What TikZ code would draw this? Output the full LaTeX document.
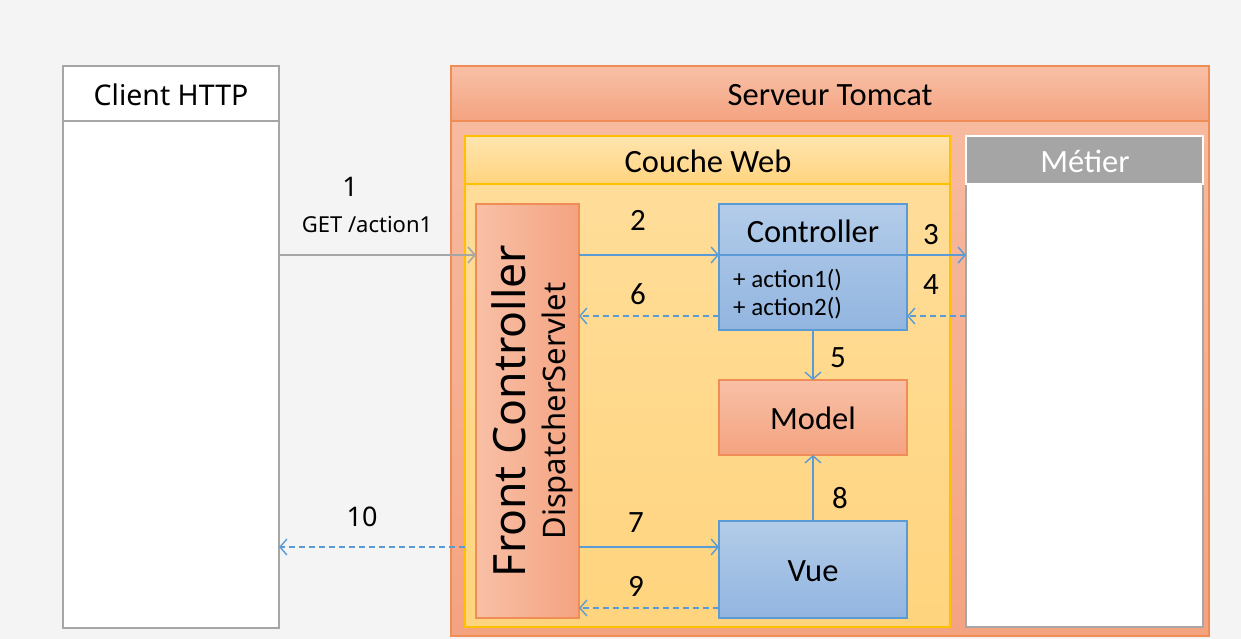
\documentclass[tikz,border=0pt]{standalone}
\usepackage{fontspec}
\setmainfont{Carlito}
\newfontfamily\segoe{Noto Sans}
\usetikzlibrary{arrows.meta}
\definecolor{bg}{HTML}{F4F4F4}
\definecolor{grayline}{HTML}{A6A6A6}
\definecolor{orangeline}{HTML}{F08C55}
\definecolor{goldline}{HTML}{FFC000}
\definecolor{blueline}{HTML}{5B9BD5}
\definecolor{salmonA}{HTML}{F8C0A6}
\definecolor{salmonB}{HTML}{F4A381}
\definecolor{yellowA}{HTML}{FFDE9C}
\definecolor{yellowB}{HTML}{FFD47E}
\definecolor{blueA}{HTML}{B3CCE9}
\definecolor{blueB}{HTML}{92B5E0}
\definecolor{metiergray}{HTML}{A5A5A5}
\tikzset{
  box/.style={anchor=north west, inner sep=0pt, outer sep=0pt, line width=1.3pt},
  salmonbox/.style={box, draw=orangeline, top color=salmonA, bottom color=salmonB},
  bluebox/.style={box, draw=blueline, top color=blueA, bottom color=blueB},
  title/.style={inner sep=0pt, font=\fontsize{32.5}{38}\selectfont},
  num/.style={inner sep=0pt, font=\fontsize{31}{37}\selectfont},
  arr/.style={draw=blueline, line width=1.4pt, -{Straight Barb[length=7pt,width=16pt,line width=1.4pt]}},
  retarr/.style={arr, dash pattern=on 6pt off 4pt},
}
\begin{document}
\begin{tikzpicture}[x=1pt,y=-1pt]
\useasboundingbox[fill=bg] (0,0) rectangle (1241,639);

% Client HTTP
\node[box, draw=grayline, fill=white, minimum width=216pt, minimum height=562pt] (client) at (63,66) {};
\draw[grayline, line width=1.3pt] (63,121) -- (279,121);
\node[inner sep=0pt, font=\segoe\fontsize{28.5}{34}\selectfont] (clientT) at (171,95) {Client HTTP};

% Serveur Tomcat
\node[box, draw=orangeline, top color=salmonA!90!salmonB, bottom color=salmonB, minimum width=758pt, minimum height=570pt] (tomcat) at (451,66) {};
\node[box, draw=orangeline, top color=salmonA, bottom color=salmonB, minimum width=758pt, minimum height=55pt] (tomcatH) at (451,66) {};
\node[title] (tomcatT) at (830,95) {Serveur Tomcat};

% Couche Web
\node[box, draw=goldline, top color=yellowA, bottom color=yellowB, minimum width=485pt, minimum height=491pt] (web) at (465,136) {};
\node[box, draw=goldline, top color=yellowA!80!white, bottom color=yellowB, minimum width=485pt, minimum height=48pt] (webH) at (465,136) {};
\node[title] (webT) at (708,161) {Couche Web};

% Metier
\node[box, draw=grayline, fill=white, minimum width=237pt, minimum height=491pt] (metier) at (966,136) {};
\node[box, draw=white, line width=2.2pt, fill=metiergray, minimum width=237pt, minimum height=48pt] (metierH) at (966,136) {};
\node[title, text=white] (metierT) at (1085,161) {Métier};

% Front Controller
\node[box, draw=orangeline, left color=salmonA, right color=salmonB, minimum width=103pt, minimum height=414pt] (front) at (476,204) {};
\node[inner sep=0pt, rotate=90, font=\segoe\fontsize{44.5}{52}\selectfont] (frontT) at (509,411) {Front Controller};
\node[inner sep=0pt, rotate=90, font=\segoe\fontsize{31}{36}\selectfont] (dispT) at (557,411) {DispatcherServlet};

% Controller
\node[bluebox, minimum width=188pt, minimum height=126pt] (ctrl) at (719,204) {};
\draw[blueline, line width=1.3pt] (719,255) coordinate (sepL) -- (907,255) coordinate (sepR);
\node[title] (ctrlT) at (813,231) {Controller};
\node[inner sep=0pt, anchor=west, font=\fontsize{25}{29}\selectfont] (act1) at (733,280) {+ action1()};
\node[inner sep=0pt, anchor=west, font=\fontsize{25}{29}\selectfont] (act2) at (733,308) {+ action2()};

% Model
\node[salmonbox, minimum width=188pt, minimum height=75pt] (model) at (719,380) {};
\node[title] (modelT) at (813,418) {Model};

% Vue
\node[bluebox, minimum width=188pt, minimum height=97pt] (vue) at (719,521) {};
\node[title] (vueT) at (813,571) {Vue};

% helper coordinates (arrow rows)
\coordinate (r1) at (0,255);
\coordinate (r2) at (0,316);
\coordinate (r3) at (0,547);
\coordinate (r4) at (0,608);

% Connectors
\draw[draw=grayline, line width=2.2pt, -{Straight Barb[length=7pt,width=16pt,line width=1.6pt]}] (client.east |- r1) -- (front.west |- r1);
\draw[arr] (front.east |- r1) -- (ctrl.west |- r1);
\draw[arr] (ctrl.east |- r1) -- (metier.west |- r1);
\draw[retarr] (metier.west |- r2) -- (ctrl.east |- r2);
\draw[retarr] (ctrl.west |- r2) -- (front.east |- r2);
\draw[arr] (ctrl.south) -- (model.north);
\draw[arr] (vue.north) -- (model.south);
\draw[arr] (front.east |- r3) -- (vue.west |- r3);
\draw[retarr] (vue.west |- r4) -- (front.east |- r4);
\draw[retarr] (web.west |- r3) -- (client.east |- r3);

% Labels
\node[inner sep=0pt, font=\segoe\fontsize{27}{32}\selectfont] (l1) at (350,187) {1};
\node[inner sep=0pt, font=\segoe\fontsize{22}{26}\selectfont] (lget) at (367,225) {GET /action1};
\node[num] (l2) at (638,220) {2};
\node[num] (l3) at (931,235) {3};
\node[num] (l4) at (931,285) {4};
\node[num] (l6) at (638,294) {6};
\node[num] (l5) at (838,358) {5};
\node[num] (l8) at (840,498) {8};
\node[num] (l7) at (636,523) {7};
\node[num] (l9) at (636,586) {9};
\node[inner sep=0pt, font=\segoe\fontsize{27}{32}\selectfont] (l10) at (362,517) {10};
\end{tikzpicture}
\end{document}
